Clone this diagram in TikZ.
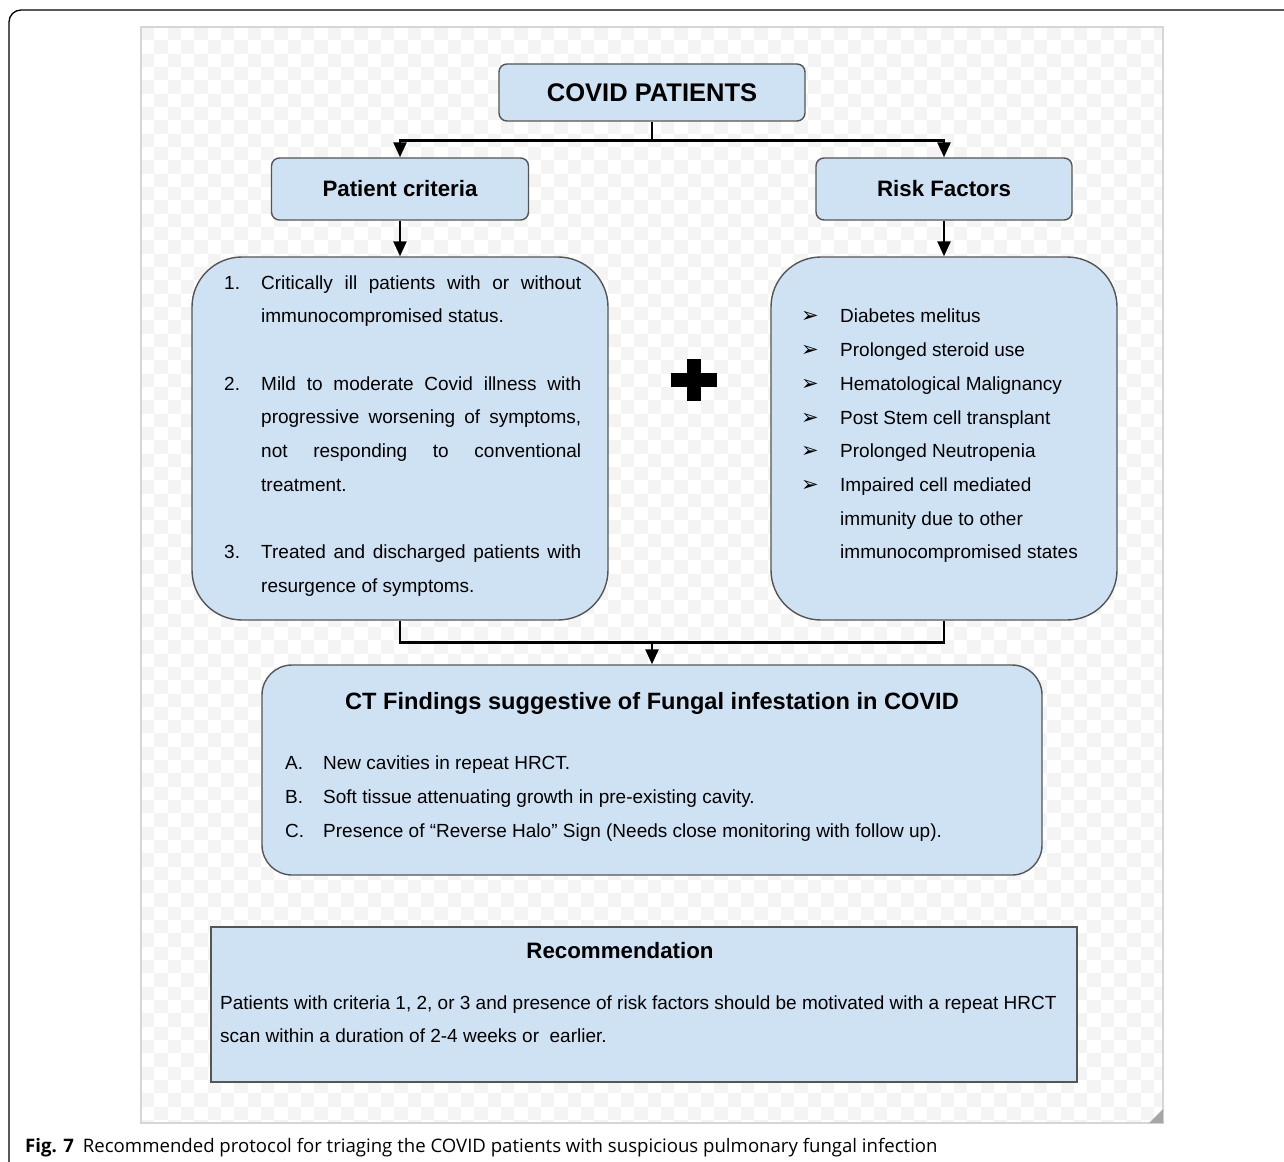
\documentclass[tikz,border=0pt]{standalone}
\usepackage{fontspec}
\setmainfont{Liberation Sans}
\newfontfamily\capfont{Open Sans}
\newfontfamily\symfont{DejaVu Sans}
\usetikzlibrary{arrows.meta}
\definecolor{boxfill}{HTML}{CFE2F3}
\definecolor{boxline}{HTML}{555555}
\definecolor{chk}{HTML}{F4F4F4}
\definecolor{bgline}{HTML}{D6D6D6}
\newcommand\bodyfont{\fontsize{19}{23}\selectfont}
\newcommand\titlefont{\fontsize{22.3}{26}\selectfont\bfseries}
\newcommand\tln[4]{\node[txt] (#1) at (#2,#3) {#4};}
\begin{document}
\begin{tikzpicture}[x=1pt,y=-1pt,
  box/.style={draw=boxline,fill=boxfill,line width=1.4pt,inner sep=0pt},
  txt/.style={anchor=base west,inner sep=0pt,font=\bodyfont},
  conn/.style={line width=2.6pt,black},
  arr/.style={line width=2.6pt,black,-{Triangle[length=15pt,width=13pt]}},
]
\useasboundingbox (0,0) rectangle (1284,1161);
\fill[white] (0,0) rectangle (1284,1161);
% checker background
\begin{scope}
\clip (141,27) rectangle (1163,1123);
\foreach \i in {0,...,76}{\foreach \j in {0,...,82}{%
  \ifodd\numexpr\i+\j\relax\else
  \fill[chk] (141+\i*13.33,27+\j*13.33) rectangle ++(13.33,13.33);\fi}}
\end{scope}
\draw[bgline,line width=1.5pt] (141,27) rectangle (1163,1123);
\fill[gray!70] (1149,1123) -- (1163,1109) -- (1163,1123) -- cycle;
% outer frame
\draw[black,line width=1.3pt,rounded corners=12] (1300,10) -- (9,10) -- (9,1175);

% boxes
\node[box,rounded corners=8,minimum width=306pt,minimum height=57pt] (covid) at (652,92.5)
  {\fontsize{25.5}{30}\selectfont\bfseries COVID PATIENTS};
\node[box,rounded corners=8,minimum width=257pt,minimum height=62pt] (pc) at (400,189)
  {\titlefont Patient criteria};
\node[box,rounded corners=8,minimum width=256pt,minimum height=62pt] (rf) at (944,189)
  {\titlefont Risk Factors};
\node[box,rounded corners=50,minimum width=416pt,minimum height=363pt] (lb) at (400,438.5) {};
\node[box,rounded corners=50,minimum width=346pt,minimum height=363pt] (rb) at (944,438.5) {};
\node[box,rounded corners=30,minimum width=780pt,minimum height=210pt] (ct) at (652,770) {};
\node[box,minimum width=866pt,minimum height=155pt] (rec) at (644,1004.5) {};

% connectors
\draw[arr] (covid.south) -- ++(0,19) -| (pc.north);
\draw[arr] (covid.south) -- ++(0,19) -| (rf.north);
\draw[arr] (pc.south) -- (lb.north);
\draw[arr] (rf.south) -- (rb.north);
\draw[conn] (lb.south) -- ++(0,22) -| (rb.south);
\coordinate (j) at (652,642);
\draw[arr] (j) -- (ct.north);

% plus sign
\fill[black] (687,359) rectangle (701,401);
\fill[black] (671,372.5) rectangle (717,387);

% left box text
\tln{n1}{224}{289}{1.}
\tln{a1}{261}{289}{\makebox[320pt][s]{Critically ill patients with or without}}
\tln{a2}{261}{322}{immunocompromised status.}
\tln{n2}{224}{390}{2.}
\tln{b1}{261}{390}{\makebox[320pt][s]{Mild to moderate Covid illness with}}
\tln{b2}{261}{423}{\makebox[320pt][s]{progressive worsening of symptoms,}}
\tln{b3}{261}{457}{\makebox[320pt][s]{not responding to conventional}}
\tln{b4}{261}{491}{treatment.}
\tln{n3}{224}{558}{3.}
\tln{c1}{261}{558}{\makebox[320pt][s]{Treated and discharged patients with}}
\tln{c2}{261}{592}{resurgence of symptoms.}

% right box text
\foreach \y/\t [count=\k] in {322/Diabetes melitus,356/Prolonged steroid use,390/Hematological Malignancy,424/Post Stem cell transplant,457/Prolonged Neutropenia,491/Impaired cell mediated}{
  \node[txt] (bu\k) at (801,\y) {\symfont\fontsize{21}{24}\selectfont ➢};
  \node[txt] (r\k) at (840,\y) {\t};
}
\tln{r7}{840}{525}{immunity due to other}
\tln{r8}{840}{558}{immunocompromised states}

% CT box text
\node[inner sep=0pt,font=\fontsize{23.6}{27}\selectfont\bfseries] (cttitle) at (652,703) {CT Findings suggestive of Fungal infestation in COVID};
\tln{ca}{285}{769}{A.}
\tln{cat}{323}{769}{New cavities in repeat HRCT.}
\tln{cb}{285}{803}{B.}
\tln{cbt}{323}{803}{Soft tissue attenuating growth in pre-existing cavity.}
\tln{cc}{285}{837}{C.}
\tln{cct}{323}{837}{Presence of “Reverse Halo” Sign (Needs close monitoring with follow up).}

% recommendation text
\node[inner sep=0pt,font=\titlefont] (rectitle) at (620,951) {Recommendation};
\tln{rt1}{220}{1009}{Patients with criteria 1, 2, or 3 and presence of risk factors should be motivated with a repeat HRCT}
\tln{rt2}{220}{1042}{scan within a duration of 2-4 weeks or \ earlier.}

% caption
\node[anchor=base west,inner sep=0pt] (cap) at (25,1152)
  {\capfont\fontsize{18.6}{22}\selectfont\textbf{Fig. 7}\hspace{9pt}Recommended protocol for triaging the COVID patients with suspicious pulmonary fungal infection};
\end{tikzpicture}
\end{document}
